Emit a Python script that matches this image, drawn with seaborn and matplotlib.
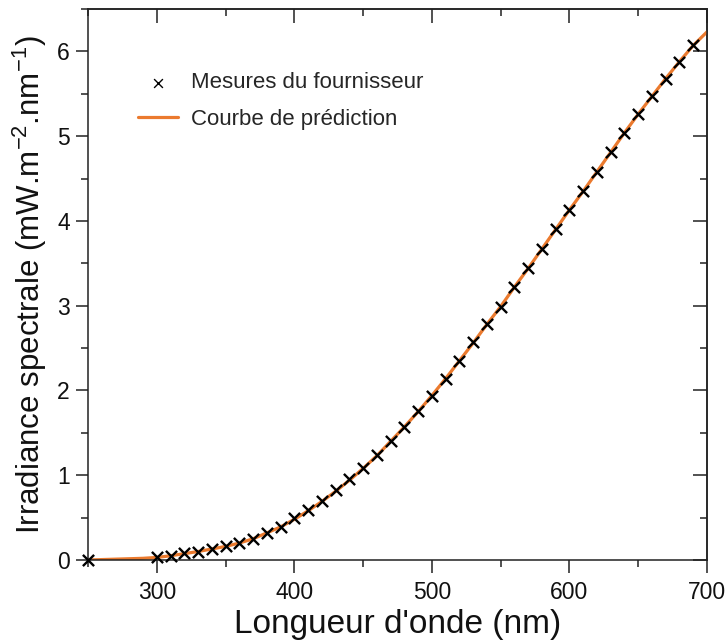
import numpy as np
import pandas as pd
import matplotlib
matplotlib.use("Agg")
import matplotlib.pyplot as plt
from matplotlib.ticker import MultipleLocator
import seaborn as sns

# Measured points (supplier data)
meas_wl = [250, 300, 310, 320, 330, 340, 350, 360, 370, 380, 390, 400, 410, 420,
           430, 440, 450, 460, 470, 480, 490, 500, 510, 520, 530, 540, 550, 560,
           570, 580, 590, 600, 610, 620, 630, 640, 650, 660, 670, 680, 690]
meas_val = [0.00, 0.03, 0.05, 0.08, 0.10, 0.13, 0.16, 0.20, 0.25, 0.32, 0.39, 0.49,
            0.59, 0.70, 0.82, 0.95, 1.08, 1.24, 1.40, 1.57, 1.76, 1.94, 2.14, 2.35,
            2.57, 2.78, 2.99, 3.22, 3.44, 3.67, 3.90, 4.13, 4.35, 4.58, 4.81, 5.04,
            5.26, 5.47, 5.68, 5.88, 6.08]

# Prediction curve
pred_wl = [250, 260, 270, 280, 290, 300, 310, 320, 330, 340, 350, 360, 370, 380,
           390, 400, 410, 420, 430, 440, 450, 460, 470, 480, 490, 500, 510, 520,
           530, 540, 550, 560, 570, 580, 590, 600, 610, 620, 630, 640, 650, 660,
           670, 680, 690, 700]
pred_val = [0.00, 0.005, 0.01, 0.015, 0.02, 0.03, 0.05, 0.075, 0.10, 0.13, 0.16,
            0.20, 0.25, 0.32, 0.39, 0.48, 0.58, 0.69, 0.81, 0.94, 1.08, 1.23, 1.40,
            1.57, 1.75, 1.94, 2.14, 2.35, 2.56, 2.78, 2.99, 3.22, 3.44, 3.67, 3.90,
            4.13, 4.35, 4.58, 4.81, 5.04, 5.26, 5.47, 5.68, 5.88, 6.07, 6.23]

x_ticks = [300, 400, 500, 600, 700]
y_ticks = [0, 1, 2, 3, 4, 5, 6]

label_meas = "Mesures du fournisseur"
label_pred = "Courbe de prédiction"

sns.set_theme(style="ticks")
plt.rcParams["font.family"] = ["Liberation Sans", "DejaVu Sans"]
plt.rcParams["mathtext.fontset"] = "custom"
plt.rcParams["mathtext.rm"] = "Liberation Sans"
plt.rcParams["mathtext.it"] = "Liberation Sans:italic"

df_meas = pd.DataFrame({"wl": meas_wl, "val": meas_val})
df_pred = pd.DataFrame({"wl": pred_wl, "val": pred_val})

fig = plt.figure(figsize=(7.27, 6.42), dpi=100)
ax = fig.add_axes([88 / 727, 1 - 560 / 642, (707 - 88) / 727, (560 - 9) / 642])

sns.lineplot(data=df_pred, x="wl", y="val", ax=ax, color="#EB7A2E", linewidth=2.3,
             label=label_pred, zorder=2)
sns.scatterplot(data=df_meas, x="wl", y="val", ax=ax, marker="x", color="black",
                s=65, linewidth=1.7, label=label_meas, zorder=3, clip_on=False)

ax.set_xlim(250, 700)
ax.set_ylim(0, 6.5)
ax.set_xticks(x_ticks)
ax.set_yticks(y_ticks)
ax.xaxis.set_minor_locator(MultipleLocator(50))
ax.yaxis.set_minor_locator(MultipleLocator(0.5))

spine_col = "#222222"
for s in ax.spines.values():
    s.set_visible(True)
    s.set_linewidth(1.1)
    s.set_color(spine_col)

ax.tick_params(axis="both", which="major", direction="out", length=9, width=1.1,
               color=spine_col, labelsize=16.5, labelcolor="#111111", pad=4)
ax.tick_params(axis="x", which="major", pad=6)
ax.tick_params(axis="both", which="minor", direction="out", length=4.7, width=1.1,
               color=spine_col)

secx = ax.secondary_xaxis("top")
secx.set_xticks(x_ticks)
secx.xaxis.set_minor_locator(MultipleLocator(50))
secx.tick_params(axis="x", which="major", direction="in", length=10, width=1.1,
                 color=spine_col, labeltop=False)
secx.tick_params(axis="x", which="minor", direction="in", length=5, width=1.1,
                 color=spine_col)
secx.spines["top"].set_linewidth(1.1)
secx.spines["top"].set_color(spine_col)

secy = ax.secondary_yaxis("right")
secy.set_yticks(y_ticks)
secy.yaxis.set_minor_locator(MultipleLocator(0.5))
secy.tick_params(axis="y", which="major", direction="in", length=10, width=1.1,
                 color=spine_col, labelright=False)
secy.tick_params(axis="y", which="minor", direction="in", length=5, width=1.1,
                 color=spine_col)
secy.spines["right"].set_linewidth(1.1)
secy.spines["right"].set_color(spine_col)

ax.set_xlabel("Longueur d'onde (nm)", fontsize=24, color="#111111", labelpad=4)
ax.set_ylabel("Irradiance spectrale (mW.m$^{-2}$.nm$^{-1}$)", fontsize=22.5,
              color="#111111", labelpad=6)

handles, labels = ax.get_legend_handles_labels()
order = [labels.index(label_meas), labels.index(label_pred)]
leg = ax.legend([handles[i] for i in order], [labels[i] for i in order],
                loc="upper left", bbox_to_anchor=(0.081, 0.885), frameon=False,
                fontsize=16, handlelength=1.8, handletextpad=0.6, labelspacing=0.7,
                borderaxespad=0, borderpad=0)
for h in leg.legend_handles:
    if hasattr(h, "set_sizes"):
        h.set_sizes([40])
        h.set_linewidth(1.0)

fig.savefig("out.png", dpi=100)
